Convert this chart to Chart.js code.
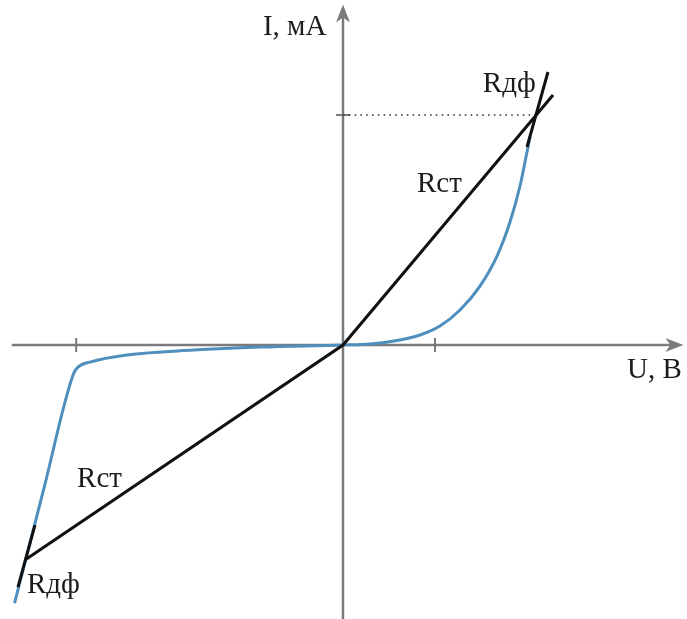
<!DOCTYPE html>
<html>
<head>
<meta charset="utf-8">
<script src="https://cdn.jsdelivr.net/npm/chart.js"></script>
<style>
  body{margin:0;background:#fff;}
  #wrap{width:687px;height:619px;}
</style>
</head>
<body>
<div id="wrap"><canvas id="vac" width="687" height="619"></canvas></div>
<script>
// scale range (U in V, I in mA)
const uRange = [-3.728, 3.739];
const iRange = [-11.91, 15.0];
// axis extents and tick marks
const axisU = [-3.6, 3.7];
const axisI = [-11.95, 14.8];
const ticksU = [-2.9, 1];
const ticksI = [10];

// blue curve: reverse branch then forward branch
const curveU = [-3.57, -3.25, -2.93, -2.88, -2.75, -2.35, -1.63, -0.90, 0, 0.293, 0.620, 0.837, 1.054, 1.272, 1.489, 1.674, 1.815, 1.924, 2.0, 2.033];
const curveI = [-11.22, -6.22, -1.26, -0.96, -0.74, -0.43, -0.22, -0.09, 0, 0.043, 0.217, 0.435, 0.826, 1.522, 2.565, 3.870, 5.348, 6.913, 8.391, 9.043];

// static resistance lines (through origin)
const rstU = [-3.457, 0, 2.283];
const rstI = [-9.35, 0, 10.87];
// differential tangents
const tanTopU = [2.0, 2.228];
const tanTopI = [8.61, 11.87];
const tanBotU = [-3.533, -3.348];
const tanBotI = [-10.52, -7.83];
// dotted level line
const levelU = [0, 2.09];
const levelI = [10, 10];

// labels: text, U, I (left / baseline)
const labelText = ['I, мА', 'U, В', 'Rдф', 'Rст', 'Rст', 'Rдф'];
const labelU = [-0.87, 3.087, 1.52, 0.804, -2.89, -3.435];
const labelI = [13.48, -1.43, 11.0, 6.65, -6.17, -10.78];

function pts(xs, ys){
    return xs.map((x, i) => ({x: x, y: ys[i]}));
}

const axisColor = '#7b7b7b';
const blue = '#4f8fbd';

//axes with arrows and ticks, drawn before the data
const axesPlugin = {
    id: 'axes',
    beforeDatasetsDraw(chart){
        const ctx = chart.ctx, sx = chart.scales.x, sy = chart.scales.y;
        const x0 = sx.getPixelForValue(0), y0 = sy.getPixelForValue(0);
        const xl = sx.getPixelForValue(axisU[0]), xr = sx.getPixelForValue(axisU[1]);
        const yb = sy.getPixelForValue(axisI[0]), yt = sy.getPixelForValue(axisI[1]);
        ctx.save();
        ctx.strokeStyle = axisColor;
        ctx.fillStyle = axisColor;
        ctx.lineWidth = 2.5;
        ctx.beginPath();
        ctx.moveTo(xl, y0); ctx.lineTo(xr - 8, y0);
        ctx.moveTo(x0, yb); ctx.lineTo(x0, yt + 8);
        ctx.stroke();
        ctx.lineWidth = 2;
        ctx.beginPath();
        ticksU.forEach(v => {
            const p = sx.getPixelForValue(v);
            ctx.moveTo(p, y0 - 7); ctx.lineTo(p, y0 + 7);
        });
        ticksI.forEach(v => {
            const p = sy.getPixelForValue(v);
            ctx.moveTo(x0 - 7, p); ctx.lineTo(x0 + 7, p);
        });
        ctx.stroke();
        //arrow heads
        ctx.beginPath();
        ctx.moveTo(xr, y0); ctx.lineTo(xr - 18, y0 - 7); ctx.lineTo(xr - 13, y0); ctx.lineTo(xr - 18, y0 + 7);
        ctx.closePath(); ctx.fill();
        ctx.beginPath();
        ctx.moveTo(x0, yt); ctx.lineTo(x0 - 7, yt + 18); ctx.lineTo(x0, yt + 13); ctx.lineTo(x0 + 7, yt + 18);
        ctx.closePath(); ctx.fill();
        ctx.restore();
    },
    afterDatasetsDraw(chart){
        const ctx = chart.ctx, sx = chart.scales.x, sy = chart.scales.y;
        ctx.save();
        ctx.fillStyle = '#1c1c1c';
        ctx.font = '29px "Liberation Serif", "DejaVu Serif", serif';
        ctx.textAlign = 'left';
        ctx.textBaseline = 'alphabetic';
        labelText.forEach((t, i) => {
            ctx.fillText(t, sx.getPixelForValue(labelU[i]), sy.getPixelForValue(labelI[i]));
        });
        ctx.restore();
    }
};

function lineSet(data, color, width, order, extra){
    return Object.assign({
        data: data,
        showLine: true,
        borderColor: color,
        borderWidth: width,
        pointRadius: 0,
        fill: false,
        tension: 0,
        order: order
    }, extra || {});
}

new Chart(document.getElementById('vac'), {
    type: 'scatter',
    data: {
        datasets: [
            lineSet(pts(curveU, curveI), blue, 3, 3, {cubicInterpolationMode: 'monotone'}),
            lineSet(pts(rstU, rstI), '#111', 3, 1),
            lineSet(pts(tanTopU, tanTopI), '#111', 3, 1),
            lineSet(pts(tanBotU, tanBotI), '#111', 3, 1),
            lineSet(pts(levelU, levelI), '#333', 1.6, 2, {borderDash: [1.6, 4.2]})
        ]
    },
    options: {
        responsive: false,
        animation: false,
        layout: {padding: 0},
        plugins: {legend: {display: false}, tooltip: {enabled: false}},
        scales: {
            x: {type: 'linear', display: false, min: uRange[0], max: uRange[1]},
            y: {type: 'linear', display: false, min: iRange[0], max: iRange[1]}
        }
    },
    plugins: [axesPlugin]
});
</script>
</body>
</html>
